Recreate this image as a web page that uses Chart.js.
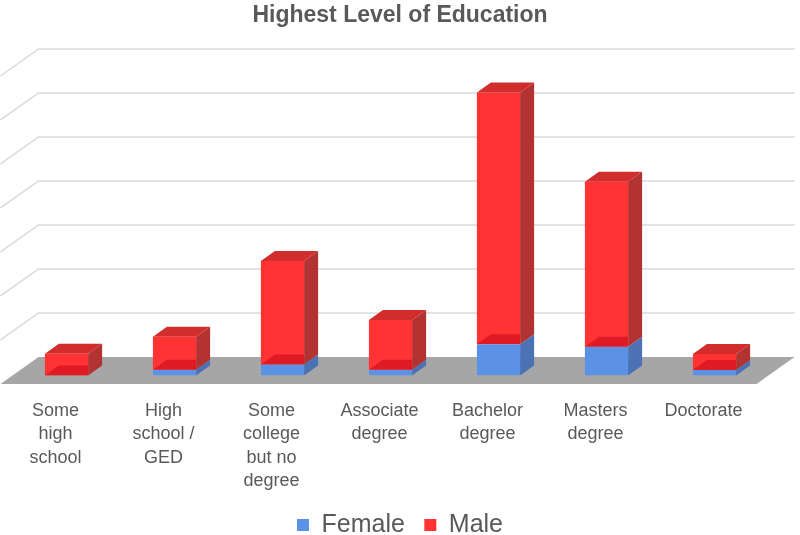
<!DOCTYPE html>
<html>
<head>
<meta charset="utf-8">
<script src="https://cdn.jsdelivr.net/npm/chart.js@4.4.1/dist/chart.umd.min.js"></script>
<style>
  html, body { margin: 0; background: #fff; }
  #wrap { width: 800px; height: 535px; }
</style>
</head>
<body>
<div id="wrap"><canvas id="chart"></canvas></div>
<script>
const categories = [
  ['Some', 'high', 'school'],
  ['High', 'school /', 'GED'],
  ['Some', 'college', 'but no', 'degree'],
  ['Associate', 'degree'],
  ['Bachelor', 'degree'],
  ['Masters', 'degree'],
  ['Doctorate']
];
const female = [0, 1.3, 2.5, 1.3, 7.1, 6.5, 1.25];
const male = [4.9, 7.5, 23.5, 11.3, 57.2, 37.5, 3.6];
const gridValues = [0, 10, 20, 30, 40, 50, 60, 70];

// fake 3d: bar depth and floor offsets (px)
const DX = 14, DY = 10;
const FRONT_DX = 12, FRONT_DY = 8.5;
const BACK_DX = 26, BACK_DY = 18.5;

function poly(ctx, pts) {
  ctx.beginPath();
  ctx.moveTo(pts[0][0], pts[0][1]);
  for (let i = 1; i < pts.length; i++) ctx.lineTo(pts[i][0], pts[i][1]);
  ctx.closePath();
  ctx.fill();
}

const depth3d = {
  id: 'depth3d',
  beforeDatasetsDraw(chart) {
    const { ctx, chartArea: a, scales: { y } } = chart;
    ctx.save();
    ctx.strokeStyle = '#d9d9d9';
    ctx.lineWidth = 1.5;
    gridValues.forEach(v => {
      if (v === 0) return;
      const py = y.getPixelForValue(v) - BACK_DY;
      ctx.beginPath();
      ctx.moveTo(a.left - FRONT_DX, py + BACK_DY + FRONT_DY);
      ctx.lineTo(a.left + BACK_DX, py);
      ctx.lineTo(a.right + BACK_DX, py);
      ctx.stroke();
    });
    // floor
    const b = y.getPixelForValue(0);
    ctx.fillStyle = '#a6a6a6';
    poly(ctx, [
      [a.left - FRONT_DX, b + FRONT_DY],
      [a.right - FRONT_DX, b + FRONT_DY],
      [a.right + BACK_DX, b - BACK_DY],
      [a.left + BACK_DX, b - BACK_DY]
    ]);
    ctx.restore();
  },
  afterDatasetsDraw(chart) {
    const ctx = chart.ctx;
    const metas = chart.getSortedVisibleDatasetMetas();
    ctx.save();
    metas.forEach((meta, mi) => {
      const ds = chart.data.datasets[meta.index];
      meta.data.forEach((bar, i) => {
        const { x, y, base, width } = bar.getProps(['x', 'y', 'base', 'width'], true);
        if (Math.abs(base - y) < 0.5) return;
        const l = x - width / 2, r = x + width / 2;
        // right side
        ctx.fillStyle = ds.sideColor;
        poly(ctx, [[r, y], [r + DX, y - DY], [r + DX, base - DY], [r, base]]);
        // bottom face seen through the front
        if (ds.bandColor) {
          ctx.save();
          ctx.beginPath();
          ctx.rect(l, y, width, base - y);
          ctx.clip();
          ctx.fillStyle = ds.bandColor;
          poly(ctx, [[l, base], [r, base], [r, base - DY], [l + DX, base - DY]]);
          ctx.restore();
        }
        // top face on the highest segment
        const isTop = metas.slice(mi + 1).every(m => !(chart.data.datasets[m.index].data[i] > 0));
        if (isTop) {
          ctx.fillStyle = ds.topColor;
          poly(ctx, [[l, y], [l + DX, y - DY], [r + DX, y - DY], [r, y]]);
        }
      });
    });
    ctx.restore();
  }
};

const FONT = 'Liberation Sans, Arial, sans-serif';

new Chart(document.getElementById('chart'), {
  type: 'bar',
  data: {
    labels: categories,
    datasets: [
      {
        label: 'Female',
        data: female,
        backgroundColor: '#5b92e5',
        sideColor: '#4a72b5',
        topColor: '#4f80cc',
        borderWidth: 0,
        barPercentage: 0.4,
        categoryPercentage: 1
      },
      {
        label: 'Male',
        data: male,
        backgroundColor: '#ff3333',
        sideColor: '#b33333',
        topColor: '#d22d2d',
        bandColor: '#de1a24',
        borderWidth: 0,
        barPercentage: 0.4,
        categoryPercentage: 1
      }
    ]
  },
  options: {
    responsive: true,
    maintainAspectRatio: false,
    animation: false,
    layout: { padding: { left: 0, right: 0, top: 0, bottom: -12.5 } },
    plugins: {
      title: {
        display: true,
        text: 'Highest Level of Education',
        color: '#595959',
        font: { family: FONT, size: 23, weight: 'bold' },
        padding: { top: 2, bottom: 37.9 }
      },
      legend: {
        position: 'bottom',
        labels: {
          color: '#595959',
          font: { family: FONT, size: 25 },
          boxWidth: 12,
          boxHeight: 12,
          padding: 19.5
        }
      },
      tooltip: { enabled: false }
    },
    scales: {
      x: {
        stacked: true,
        grid: { display: false, drawTicks: false },
        border: { display: false },
        ticks: {
          color: '#595959',
          font: { family: FONT, size: 18, lineHeight: 1.3 },
          padding: 24,
          labelOffset: -11,
          maxRotation: 0,
          autoSkip: false
        },
        afterFit(scale) { scale.height -= 24; }
      },
      y: {
        stacked: true,
        position: 'left',
        min: gridValues[0],
        max: gridValues[gridValues.length - 1],
        grid: { display: false },
        border: { display: false },
        ticks: { display: false, stepSize: 10 },
        afterFit(scale) { scale.width = 12.5; }
      },
      yRight: {
        position: 'right',
        grid: { display: false },
        border: { display: false },
        ticks: { display: false },
        afterFit(scale) { scale.width = 31.5; }
      }
    }
  },
  plugins: [depth3d]
});
</script>
</body>
</html>
